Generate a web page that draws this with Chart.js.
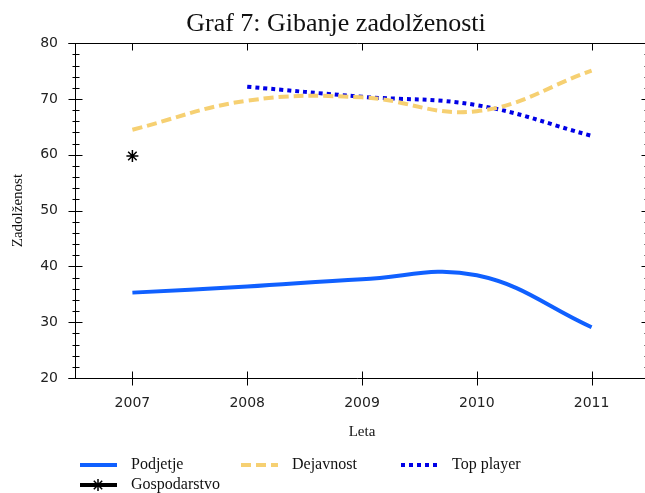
<!DOCTYPE html>
<html>
<head>
<meta charset="utf-8">
<script src="https://cdn.jsdelivr.net/npm/chart.js@4/dist/chart.umd.min.js"></script>
<style>
  html, body { margin: 0; padding: 0; background: #fff; overflow: hidden; }
  #graf7 { width: 645px; height: 493px; display: block; }
</style>
</head>
<body>
<canvas id="graf7" width="645" height="493"></canvas>
<script>
// values
var years = [2007, 2008, 2009, 2010, 2011];
var podjetje = [35.3, 36.4, 37.7, 38.4, 29.1];
var dejavnost = [64.5, 69.7, 70.3, 67.8, 75.1];
var topPlayer = [null, 72.2, 70.4, 68.9, 63.4];
var gospodarstvo = [59.8, null, null, null, null];
var yTicks = [20, 30, 40, 50, 60, 70, 80];
var seriesNames = ['Podjetje', 'Dejavnost', 'Top player', 'Gospodarstvo'];

var serif = "'Liberation Serif', 'DejaVu Serif', serif";

var points = function(vals) {
  return years.map(function(yr, i) { return { x: yr, y: vals[i] }; });
};

// the right axis of the original sits just past the window edge
var plotRight = 649;
var stretchRight = {
  id: 'stretchRight',
  afterLayout: function(chart) {
    var xs = chart.scales.x;
    xs.right = plotRight;
    xs.width = xs.right - xs.left;
    xs.configure();
    chart.chartArea.right = plotRight;
    chart.chartArea.width = plotRight - chart.chartArea.left;
  }
};

// frame, crossing ticks and minor ticks
var axisFrame = {
  id: 'axisFrame',
  afterDraw: function(chart) {
    var ctx = chart.ctx, a = chart.chartArea;
    var xs = chart.scales.x, ys = chart.scales.y;
    var L = Math.round(a.left) + 0.5, R = Math.round(a.right) + 0.5;
    var T = Math.round(a.top) + 0.5, B = Math.round(a.bottom) + 0.5;
    ctx.save();
    ctx.strokeStyle = '#000';
    ctx.lineWidth = 1;
    ctx.beginPath();
    ctx.moveTo(L - 7, T); ctx.lineTo(R, T);
    ctx.moveTo(L - 7, B); ctx.lineTo(R, B);
    ctx.moveTo(L, T); ctx.lineTo(L, B);
    ctx.moveTo(R, T); ctx.lineTo(R, B);
    for (var v = ys.min; v <= ys.max; v += 2) {
      var y = Math.round(ys.getPixelForValue(v)) + 0.5;
      if (yTicks.indexOf(v) >= 0) {
        ctx.moveTo(L - 7, y); ctx.lineTo(L + 7, y);
        ctx.moveTo(R - 8, y); ctx.lineTo(R, y);
      } else {
        ctx.moveTo(L - 3, y); ctx.lineTo(L + 4, y);
        ctx.moveTo(R - 5, y); ctx.lineTo(R, y);
      }
    }
    years.forEach(function(yr) {
      var x = Math.round(xs.getPixelForValue(yr)) + 0.5;
      ctx.moveTo(x, B - 7); ctx.lineTo(x, B + 7);
      ctx.moveTo(x, T); ctx.lineTo(x, T + 7);
    });
    ctx.stroke();
    ctx.restore();
  }
};

// legend in three columns under the plot
var legendSpots = [[80, 465], [241, 465], [401, 465], [80, 485]];
var bottomLegend = {
  id: 'bottomLegend',
  afterDraw: function(chart) {
    var ctx = chart.ctx;
    ctx.save();
    chart.data.datasets.forEach(function(ds, i) {
      var x = legendSpots[i][0], y = legendSpots[i][1];
      ctx.beginPath();
      ctx.strokeStyle = ds.borderColor;
      ctx.lineWidth = 4;
      ctx.setLineDash(ds.borderDash || []);
      ctx.moveTo(x, y); ctx.lineTo(x + 37, y);
      ctx.stroke();
      ctx.setLineDash([]);
      if (ds.pointStyle === 'star') {
        ctx.lineWidth = 1.5;
        ctx.beginPath();
        var cx = x + 18, r = 6;
        ctx.moveTo(cx - r, y); ctx.lineTo(cx + r, y);
        ctx.moveTo(cx, y - r); ctx.lineTo(cx, y + r);
        ctx.moveTo(cx - r * 0.7, y - r * 0.7); ctx.lineTo(cx + r * 0.7, y + r * 0.7);
        ctx.moveTo(cx - r * 0.7, y + r * 0.7); ctx.lineTo(cx + r * 0.7, y - r * 0.7);
        ctx.stroke();
      }
      ctx.fillStyle = '#111';
      ctx.font = '16px ' + serif;
      ctx.textBaseline = 'middle';
      ctx.fillText(ds.label, x + 51, y);
    });
    ctx.restore();
  }
};

new Chart(document.getElementById('graf7'), {
  type: 'line',
  data: {
    datasets: [
      {
        label: seriesNames[0], data: points(podjetje),
        borderColor: '#1060ff', borderWidth: 4, tension: 0.4,
        pointRadius: 0
      },
      {
        label: seriesNames[1], data: points(dejavnost),
        borderColor: '#f6d072', borderWidth: 4, borderDash: [10, 5], tension: 0.4,
        pointRadius: 0
      },
      {
        label: seriesNames[2], data: points(topPlayer),
        borderColor: '#0000e6', borderWidth: 4, borderDash: [4, 4], tension: 0.4,
        pointRadius: 0
      },
      {
        label: seriesNames[3], data: points(gospodarstvo),
        borderColor: '#000', borderWidth: 1.5, showLine: false,
        pointStyle: 'star', pointRadius: 6, pointBorderWidth: 1.5, pointBorderColor: '#000'
      }
    ]
  },
  options: {
    responsive: false,
    maintainAspectRatio: false,
    animation: false,
    devicePixelRatio: 1,
    layout: { padding: { left: 27, right: 0, top: 0, bottom: 40 } },
    plugins: {
      legend: { display: false },
      tooltip: { enabled: false },
      title: {
        display: true,
        text: 'Graf 7: Gibanje zadolženosti',
        color: '#111',
        font: { family: serif, size: 26, weight: 'normal' },
        padding: { top: 9, bottom: 3 }
      }
    },
    scales: {
      x: {
        type: 'linear', min: 2006.5, max: 2011.5,
        grid: { display: false, drawTicks: false },
        border: { display: false },
        afterBuildTicks: function(scale) {
          scale.ticks = years.map(function(v) { return { value: v }; });
        },
        afterFit: function(scale) { scale.height = 75; },
        ticks: {
          color: '#222', padding: 17,
          font: { family: "'DejaVu Sans', sans-serif", size: 14 },
          callback: function(v) { return String(v); }
        },
        title: {
          display: true, text: 'Leta', color: '#111',
          font: { family: serif, size: 15 },
          padding: { top: 0, bottom: 12 }
        }
      },
      y: {
        min: 20, max: 80,
        grid: { display: false, drawTicks: false },
        border: { display: false },
        afterBuildTicks: function(scale) {
          scale.ticks = yTicks.map(function(v) { return { value: v }; });
        },
        afterFit: function(scale) { scale.width = 48; },
        ticks: {
          color: '#222', padding: 17,
          font: { family: "'DejaVu Sans', sans-serif", size: 14 },
          callback: function(v) { return String(v); }
        },
        title: {
          display: true, text: 'Zadolženost', color: '#111',
          font: { family: serif, size: 15 },
          padding: { top: -18, bottom: 0 }
        }
      }
    }
  },
  plugins: [stretchRight, axisFrame, bottomLegend]
});
</script>
</body>
</html>
